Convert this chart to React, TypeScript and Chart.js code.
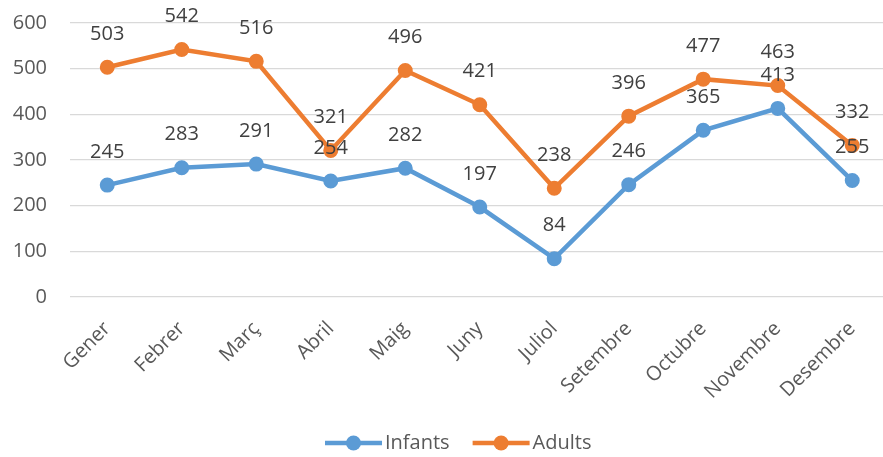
import React, { useEffect, useRef } from "react";
import { Chart, registerables } from "chart.js";

Chart.register(...registerables);

const months = ["Gener", "Febrer", "Març", "Abril", "Maig", "Juny", "Juliol", "Setembre", "Octubre", "Novembre", "Desembre"];
const infants = [245, 283, 291, 254, 282, 197, 84, 246, 365, 413, 255];
const adults = [503, 542, 516, 321, 496, 421, 238, 396, 477, 463, 332];
const seriesNames = ["Infants", "Adults"];
const seriesColors = ["#5B9BD5", "#ED7D31"];

const FONT = "'Open Sans', sans-serif";

const labelPlugin = {
  id: "valueLabels",
  afterDatasetsDraw(chart: any) {
    const ctx = chart.ctx;
    ctx.save();
    ctx.font = `20px ${FONT}`;
    ctx.fillStyle = "#404040";
    ctx.textAlign = "center";
    ctx.textBaseline = "middle";
    chart.data.datasets.forEach((ds: any, i: number) => {
      const meta = chart.getDatasetMeta(i);
      meta.data.forEach((pt: any, j: number) => {
        ctx.fillText(String(ds.data[j]), pt.x, pt.y - 33);
      });
    });
    ctx.restore();
  },
};

const legendPlugin = {
  id: "customLegend",
  afterDraw(chart: any) {
    const ctx = chart.ctx;
    ctx.save();
    ctx.font = `20px ${FONT}`;
    ctx.textBaseline = "middle";
    ctx.textAlign = "left";
    const y = 443;
    let x = 325;
    chart.data.datasets.forEach((ds: any) => {
      const color = ds.borderColor;
      ctx.strokeStyle = color;
      ctx.lineWidth = 4.5;
      ctx.beginPath();
      ctx.moveTo(x, y);
      ctx.lineTo(x + 57, y);
      ctx.stroke();
      ctx.fillStyle = color;
      ctx.beginPath();
      ctx.arc(x + 28.5, y, 7.5, 0, Math.PI * 2);
      ctx.fill();
      ctx.fillStyle = "#595959";
      ctx.fillText(ds.label, x + 60, y);
      const w = ctx.measureText(ds.label).width;
      x += 60 + w + 23;
    });
    ctx.restore();
  },
};

export default function App() {
  const ref = useRef<HTMLCanvasElement>(null);
  useEffect(() => {
    document.body.style.margin = "0";
    const canvas = ref.current!;
    const chart = new Chart(canvas, {
      type: "line",
      data: {
        labels: months,
        datasets: [infants, adults].map((d, i) => ({
          label: seriesNames[i],
          data: d,
          borderColor: seriesColors[i],
          backgroundColor: seriesColors[i],
          pointBackgroundColor: seriesColors[i],
          pointBorderColor: seriesColors[i],
          borderWidth: 4.5,
          pointRadius: 6.5,
          pointBorderWidth: 2,
          tension: 0,
          fill: false,
        })),
      },
      options: {
        responsive: false,
        animation: false,
        devicePixelRatio: 1,
        layout: { padding: { top: 23, left: 0, right: 0, bottom: 0 } },
        plugins: {
          legend: { display: false },
          tooltip: { enabled: false },
        },
        scales: {
          x: {
            offset: true,
            grid: { display: false, drawTicks: false },
            border: { display: false },
            ticks: {
              minRotation: 45,
              maxRotation: 45,
              autoSkip: false,
              padding: 20,
              color: "#595959",
              font: { family: FONT, size: 20 },
            },
            afterFit(scale: any) {
              scale.height = 160;
              scale.paddingLeft = 0;
              scale.paddingRight = 0;
            },
          },
          y: {
            min: 0,
            max: 600,
            ticks: {
              stepSize: 100,
              padding: 23,
              color: "#595959",
              font: { family: FONT, size: 20 },
            },
            grid: { color: "#D9D9D9", lineWidth: 1.3, drawTicks: false },
            border: { display: false },
            afterFit(scale: any) {
              scale.width = 70;
              scale.paddingTop = 0;
              scale.paddingBottom = 0;
            },
          },
        },
      },
      plugins: [labelPlugin, legendPlugin],
    });
    return () => chart.destroy();
  }, []);
  return (
    <div style={{ position: "fixed", left: 0, top: 0, width: 883, height: 457, overflow: "hidden", background: "#fff" }}>
      <canvas ref={ref} width={898} height={457} style={{ display: "block", width: 898, height: 457 }} />
    </div>
  );
}
